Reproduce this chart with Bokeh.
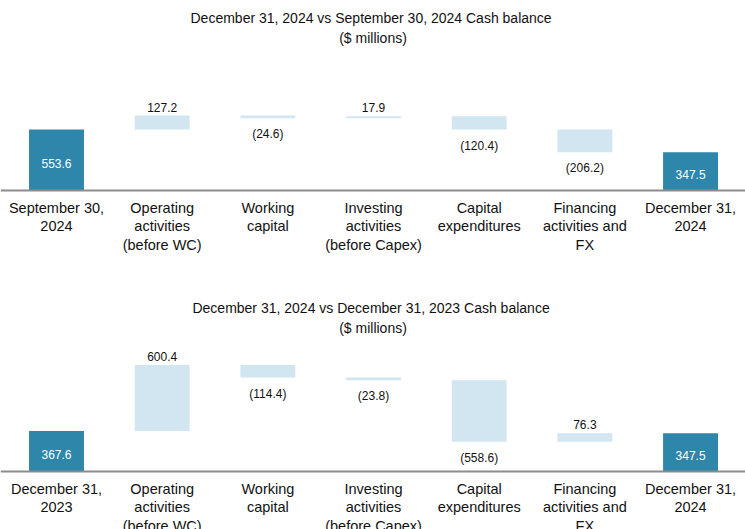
from bokeh.plotting import figure
from bokeh.layouts import column
from bokeh.models import ColumnDataSource, Range1d, Title, Span
from bokeh.core.properties import value
from bokeh.embed import file_html
from bokeh.resources import INLINE

# ---------------- data ----------------
top_title = "December 31, 2024 vs September 30, 2024 Cash  balance"
top_subtitle = "($ millions)"
top_categories = ["September 30,\n2024", "Operating\nactivities\n(before WC)", "Working\ncapital",
                  "Investing\nactivities\n(before Capex)", "Capital\nexpenditures",
                  "Financing\nactivities and\nFX", "December 31,\n2024"]
top_values = [553.6, 127.2, -24.6, 17.9, -120.4, -206.2, 347.5]

bottom_title = "December 31, 2024 vs December 31, 2023 Cash  balance"
bottom_subtitle = "($ millions)"
bottom_categories = ["December 31,\n2023", "Operating\nactivities\n(before WC)", "Working\ncapital",
                     "Investing\nactivities\n(before Capex)", "Capital\nexpenditures",
                     "Financing\nactivities and\nFX", "December 31,\n2024"]
bottom_values = [367.6, 600.4, -114.4, -23.8, -558.6, 76.3, 347.5]

DARK = "#2E86AB"
LIGHT = "#D2E6F1"
FONT = "Liberation Sans"


def waterfall(title, subtitle, cats, vals, height, y_start, y_end):
    n = len(vals)
    xs = list(range(n))
    tops, bottoms, colors = [], [], []
    run = 0.0
    for i, v in enumerate(vals):
        if i == 0 or i == n - 1:
            bottoms.append(0.0)
            tops.append(v)
            colors.append(DARK)
            run = v
        else:
            new = run + v
            bottoms.append(min(run, new))
            tops.append(max(run, new))
            colors.append(LIGHT)
            run = new
    src = ColumnDataSource(dict(x=xs, top=tops, bottom=bottoms, color=colors))

    p = figure(width=745, height=height, output_backend="svg", toolbar_location=None,
               x_range=Range1d(-0.53, n - 1 + 0.52), y_range=Range1d(y_start, y_end),
               min_border_left=0, min_border_right=0, min_border_top=50,
               min_border_bottom=0)
    p.title.text = title
    p.title.align = "center"
    p.title.text_font = FONT
    p.title.text_font_size = "14px"
    p.title.text_font_style = "normal"
    p.title.text_color = "#111111"
    p.title.standoff = -7
    p.add_layout(Title(text=subtitle, align="center", text_font=FONT, text_font_size="14px",
                       text_font_style="normal", text_color="#111111", standoff=10), "above")
    p.outline_line_color = None
    p.grid.visible = False
    p.xaxis.visible = False
    p.yaxis.visible = False
    p.background_fill_color = "white"
    p.border_fill_color = "white"

    p.vbar(x="x", top="top", bottom="bottom", width=0.52, fill_color="color",
           line_color=None, source=src)

    # baseline
    p.add_layout(Span(location=0, dimension="width", line_color="#8C8C8C", line_width=2))

    # category labels under the baseline
    p.text(x=xs, y=[0] * n, text=cats, text_font=value(FONT), text_font_size="14.5px",
           text_align="center", text_baseline="top", y_offset=9, text_color="#111111",
           text_line_height=1.17)

    # value labels
    inside = dict(x=[], y=[], t=[])
    above = dict(x=[], y=[], t=[])
    below = dict(x=[], y=[], t=[])
    for i, v in enumerate(vals):
        if i == 0 or i == n - 1:
            inside["x"].append(i); inside["y"].append(v / 2); inside["t"].append(f"{v:.1f}")
        elif v >= 0:
            above["x"].append(i); above["y"].append(tops[i]); above["t"].append(f"{v:.1f}")
        else:
            below["x"].append(i); below["y"].append(bottoms[i]); below["t"].append(f"({-v:.1f})")
    common = dict(text_font=value(FONT), text_font_size="12px", text_align="center")
    p.text(x="x", y="y", text="t", source=ColumnDataSource(inside), text_color="white",
           text_baseline="middle", y_offset=3, **common)
    p.text(x="x", y="y", text="t", source=ColumnDataSource(above), text_color="#111111",
           text_baseline="bottom", y_offset=-4, **common)
    p.text(x="x", y="y", text="t", source=ColumnDataSource(below), text_color="#111111",
           text_baseline="top", y_offset=9, **common)
    return p


SCALE = 0.11  # px per $ million
p1 = waterfall(top_title, top_subtitle, top_categories, top_values, 290,
               -100 / SCALE, 140 / SCALE)
p2 = waterfall(bottom_title, bottom_subtitle, bottom_categories, bottom_values, 239,
               -58 / SCALE, 131 / SCALE)
layout = column(p1, p2, spacing=0)

open("out.html", "w").write(file_html(layout, INLINE))
